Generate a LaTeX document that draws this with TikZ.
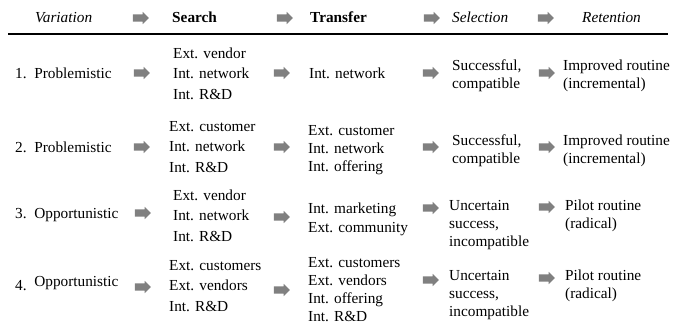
\documentclass[tikz,border=0pt]{standalone}
\usepackage{fontspec}
\setmainfont{Liberation Serif}
\usetikzlibrary{shapes.arrows}
\definecolor{arrowgray}{RGB}{128,128,128}
\tikzset{
  cell/.style={anchor=base west, inner sep=0pt, align=left,
    font=\fontsize{15.3}{18.3}\selectfont},
  srch/.style={cell, font=\fontsize{15.3}{20.5}\selectfont},
  wide/.style={cell, font=\fontsize{15.3}{19.5}\selectfont},
  hdr/.style={anchor=base west, inner sep=0pt, font=\fontsize{15.3}{18.3}\selectfont},
  blk/.style={single arrow, draw=none, fill=arrowgray, minimum height=16pt, minimum width=12pt,
    text height=3.5pt, text depth=3.5pt, text width=0pt,
    single arrow head extend=2.5pt, single arrow head indent=0pt, inner sep=0pt},
}
\begin{document}
\begin{tikzpicture}[x=1pt,y=1pt]
\useasboundingbox (0,0) rectangle (675,-324);
% header
\node[hdr] (hv) at (35,-23) {\itshape Variation};
\node[hdr] (hs) at (172,-23) {\bfseries Search};
\node[hdr] (ht) at (310,-23) {\bfseries Transfer};
\node[hdr] (hl) at (452,-23) {\itshape Selection};
\node[hdr] (hr) at (582,-23) {\itshape Retention};
\node[blk] (ha1) at (139,-18) {};
\node[blk] (ha2) at (283,-18) {};
\node[blk] (ha3) at (430,-18) {};
\node[blk] (ha4) at (544,-18) {};
\coordinate (ls) at (8,-34);
\coordinate (le) at (668,-34);
\draw[line width=1.6pt] (ls) -- (le);
% row 1 (multi-line nodes are placed by the baseline of their last line)
\node[cell] (v1) at (15,-78) {1.\, Problemistic};
\node[srch] (s1) at (173,-99) {Ext. vendor\\Int. network\\Int. R\&D};
\node[cell] (t1) at (309,-78) {Int. network};
\node[cell] (l1) at (452,-88.3) {Successful,\\compatible};
\node[cell] (r1) at (563,-88.3) {Improved routine\\(incremental)};
\node[blk] (a11) at (140,-73) {};
\node[blk] (a12) at (280,-73) {};
\node[blk] (a13) at (429,-73) {};
\node[blk] (a14) at (545,-73) {};
% row 2
\node[cell] (v2) at (15,-152) {2.\, Problemistic};
\node[srch] (s2) at (169,-172) {Ext. customer\\Int. network\\Int. R\&D};
\node[cell] (t2) at (308,-171.6) {Ext. customer\\Int. network\\Int. offering};
\node[cell] (l2) at (452,-163.3) {Successful,\\compatible};
\node[cell] (r2) at (563,-163.3) {Improved routine\\(incremental)};
\node[blk] (a21) at (140,-147) {};
\node[blk] (a22) at (280,-147) {};
\node[blk] (a23) at (429,-147) {};
\node[blk] (a24) at (545,-147) {};
% row 3
\node[cell] (v3) at (15,-218) {3.\, Opportunistic};
\node[srch] (s3) at (173,-241) {Ext. vendor\\Int. network\\Int. R\&D};
\node[wide] (t3) at (308,-232.5) {Int. marketing\\Ext. community};
\node[cell] (l3) at (449,-246.6) {Uncertain\\success,\\incompatible};
\node[cell] (r3) at (565,-228.3) {Pilot routine\\(radical)};
\node[blk] (a31) at (141,-213) {};
\node[blk] (a32) at (280,-217) {};
\node[blk] (a33) at (429,-208) {};
\node[blk] (a34) at (545,-207) {};
% row 4
\node[cell] (v4) at (15,-290) {4.\, \raisebox{3.5pt}{Opportunistic}};
\node[srch] (s4) at (169,-311) {Ext. customers\\Ext. vendors\\Int. R\&D};
\node[cell] (t4) at (308,-321.9) {Ext. customers\\Ext. vendors\\Int. offering\\Int. R\&D};
\node[cell] (l4) at (449,-316.6) {Uncertain\\success,\\incompatible};
\node[cell] (r4) at (565,-298.3) {Pilot routine\\(radical)};
\node[blk] (a41) at (141,-287) {};
\node[blk] (a42) at (280,-290) {};
\node[blk] (a43) at (429,-280) {};
\node[blk] (a44) at (545,-278) {};
\end{tikzpicture}
\end{document}
